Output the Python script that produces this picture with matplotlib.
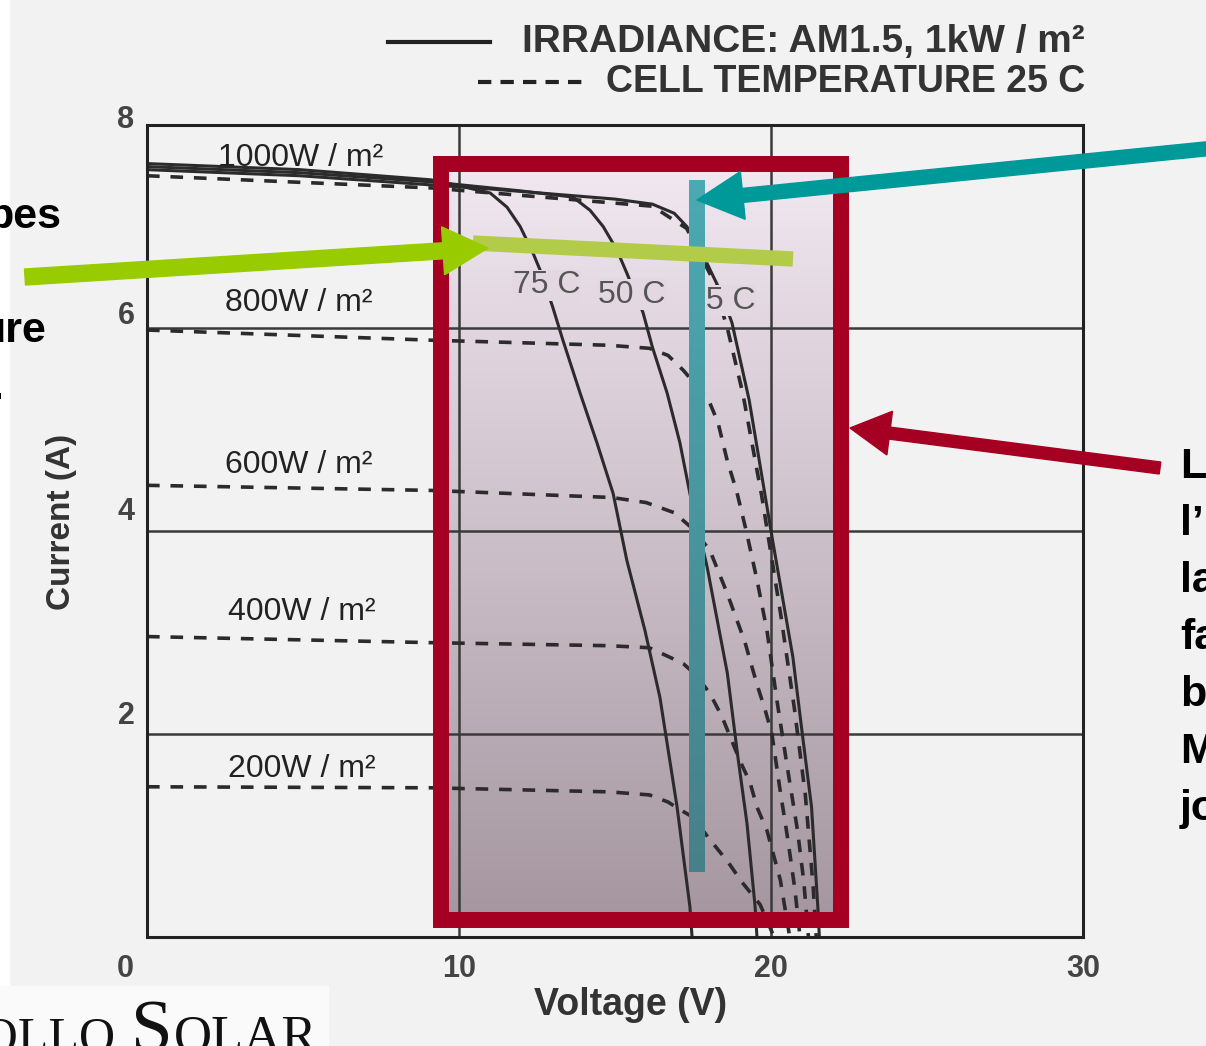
import numpy as np
import matplotlib
matplotlib.use('Agg')
import matplotlib.pyplot as plt
from matplotlib.patches import Rectangle, FancyArrow
from matplotlib.transforms import ScaledTranslation
from matplotlib.colors import LinearSegmentedColormap

plt.rcParams['font.family'] = ['Liberation Sans', 'DejaVu Sans']

# I-V curves (voltage V, current A)
# 1000 W/m2 at 25, 50 and 75 C (solid)
v_25c = [0, 4.9, 9.1, 11.0, 13.0, 15.0, 16.2, 16.9, 17.3, 17.7, 18.1, 18.4, 18.75, 19.3, 20.05, 20.7, 21.0, 21.3, 21.5, 21.55]
i_25c = [7.56, 7.50, 7.41, 7.37, 7.32, 7.27, 7.22, 7.13, 7.00, 6.80, 6.54, 6.35, 6.05, 5.29, 3.91, 2.76, 2.01, 1.28, 0.30, 0.0]
v_50c = [0, 4.9, 9.1, 12.0, 13.65, 14.2, 14.62, 15.06, 15.38, 15.9, 16.2, 16.67, 17.08, 17.4, 17.95, 18.6, 18.94, 19.23, 19.49, 19.55]
i_50c = [7.59, 7.53, 7.44, 7.35, 7.29, 7.16, 7.00, 6.77, 6.54, 6.15, 5.81, 5.36, 4.87, 4.37, 3.65, 2.60, 1.77, 1.12, 0.30, 0.0]
v_75c = [0, 4.9, 9.1, 10.3, 11.0, 11.54, 11.96, 12.37, 12.6, 13.0, 13.33, 13.88, 14.42, 14.94, 15.38, 15.96, 16.44, 16.99, 17.4, 17.47]
i_75c = [7.62, 7.56, 7.46, 7.38, 7.33, 7.19, 7.00, 6.74, 6.57, 6.21, 5.88, 5.36, 4.87, 4.37, 3.71, 3.02, 2.36, 1.28, 0.30, 0.0]

# cell temperature 25 C at several irradiances (dashed)
v_1000 = [0, 9.1, 16.2, 17.3, 18.1, 18.6, 19.1, 19.7, 20.3, 20.75, 21.1, 21.35, 21.45]
i_1000 = [7.50, 7.38, 7.20, 6.98, 6.50, 6.00, 5.35, 4.35, 3.20, 2.25, 1.40, 0.50, 0.0]
v_800 = [0, 9.1, 14.8, 16.1, 16.7, 17.2, 18.0, 18.3, 18.6, 18.9, 19.2, 19.55, 19.87, 20.2, 20.55, 20.85, 21.05, 21.2]
i_800 = [5.98, 5.88, 5.83, 5.80, 5.73, 5.58, 5.29, 5.07, 4.69, 4.39, 4.01, 3.52, 3.02, 2.31, 1.62, 1.05, 0.55, 0.0]
v_600 = [0, 9.1, 14.9, 16.0, 16.9, 17.5, 18.04, 18.59, 18.91, 19.17, 19.39, 19.58, 19.81, 20.03, 20.29, 20.54, 20.77, 20.93]
i_600 = [4.45, 4.40, 4.33, 4.28, 4.18, 4.02, 3.81, 3.39, 3.12, 2.90, 2.66, 2.46, 2.24, 2.00, 1.45, 0.96, 0.46, 0.0]
v_400 = [0, 9.1, 14.8, 16.1, 16.8, 17.2, 17.6, 18.04, 18.43, 19.0, 19.33, 19.55, 19.87, 20.3, 20.6]
i_400 = [2.96, 2.90, 2.87, 2.85, 2.75, 2.69, 2.58, 2.40, 2.17, 1.74, 1.52, 1.28, 1.05, 0.56, 0.0]
v_200 = [0, 9.1, 14.8, 16.1, 16.7, 17.0, 17.5, 18.04, 18.62, 19.07, 19.65, 20.1]
i_200 = [1.48, 1.47, 1.43, 1.40, 1.33, 1.27, 1.18, 0.96, 0.74, 0.54, 0.32, 0.0]

irr_labels = ['1000W / m²', '800W / m²', '600W / m²', '400W / m²', '200W / m²']
irr_label_pos = [(2.28, 7.67), (2.5, 6.25), (2.5, 4.65), (2.6, 3.20), (2.6, 1.66)]
temp_labels = ['75 C', '50 C', '25 C']
temp_label_pos = [(12.8, 6.42), (15.55, 6.33), (18.43, 6.27)]

x_ticks = [0, 10, 20, 30]
y_ticks = [2, 4, 6, 8]

legend_texts = ['IRRADIANCE: AM1.5, 1kW / m²', 'CELL TEMPERATURE 25 C']
right_text = ['L', 'l’', 'la', 'fa', 'b', 'M', 'jo']
left_text = ['bes', 'ure', '.']

W, H = 1206, 1046
fig = plt.figure(figsize=(W / 100, H / 100), dpi=100, facecolor='#F2F2F2')


def vgrad(axis, x0, x1, y0, y1, c_top, c_bot, z):
    cmap = LinearSegmentedColormap.from_list('g', [c_top, c_bot])
    axis.imshow(np.linspace(0, 1, 256).reshape(-1, 1), cmap=cmap, aspect='auto',
                extent=(x0, x1, y1, y0), zorder=z, interpolation='bilinear')


# background layer (pixel coordinates)
bg = fig.add_axes([0, 0, 1, 1], zorder=0)
vgrad(bg, 441, 841, 164, 920, '#F2E8F2', '#A5969F', 1)
bg.add_patch(Rectangle((0, 0), 9, H, color='white', zorder=0))
bg.set_xlim(0, W)
bg.set_ylim(H, 0)
bg.axis('off')

# the chart itself
ax = fig.add_axes([147 / W, (H - 937) / H, 936 / W, 812 / H], zorder=1)
ax.set_facecolor('none')
solid_kw = dict(color='#2b2b2b', lw=2.2, solid_capstyle='butt')
dash_kw = dict(color='#2b2b2b', lw=2.6, ls=(0, (3.5, 3)))
ax.plot(v_25c, i_25c, **solid_kw)
ax.plot(v_50c, i_50c, **solid_kw)
ax.plot(v_75c, i_75c, **solid_kw)
ax.plot(v_1000, i_1000, **dash_kw)
ax.plot(v_800, i_800, **dash_kw)
ax.plot(v_600, i_600, **dash_kw)
ax.plot(v_400, i_400, **dash_kw)
ax.plot(v_200, i_200, **dash_kw)

for lab, (x, y) in zip(irr_labels, irr_label_pos):
    ax.text(x, y, lab, fontsize=23, color='#222222', ha='left', va='center')
for lab, (x, y) in zip(temp_labels, temp_label_pos):
    ax.text(x, y, lab, fontsize=23, color='#555555', ha='center', va='center',
            bbox=dict(facecolor='#E3D8E2', edgecolor='none', pad=0.5))

ax.set_xlim(0, 30)
ax.set_ylim(0, 8)
ax.set_xticks(x_ticks)
ax.set_yticks(y_ticks)
ax.set_xticklabels([str(t) for t in x_ticks])
ax.set_yticklabels([str(t) for t in y_ticks])
ax.tick_params(length=0, labelsize=22, labelcolor='#444444')
ax.tick_params(axis='x', pad=12)
ax.tick_params(axis='y', pad=9)
for lab in ax.get_xticklabels() + ax.get_yticklabels():
    lab.set_fontweight('bold')
# the scanned labels sit a little above their grid lines
for lab, up in zip(ax.get_yticklabels(), [22, 23, 16, 8]):
    lab.set_transform(lab.get_transform() + ScaledTranslation(0, up / 100, fig.dpi_scale_trans))
ax.get_xticklabels()[0].set_transform(ax.get_xticklabels()[0].get_transform()
                                      + ScaledTranslation(-0.22, 0, fig.dpi_scale_trans))
ax.grid(True, color='#3a3a3a', lw=1.8)
for s in ax.spines.values():
    s.set_color('#222222')
    s.set_linewidth(2.2)

ax.set_xlabel('Voltage (V)', fontsize=27, fontweight='bold', color='#333333', va='center')
ax.set_ylabel('Current (A)', fontsize=24, fontweight='bold', color='#333333', va='center')
ax.xaxis.set_label_coords(0.517, -0.084)
ax.yaxis.set_label_coords(-0.091, 0.511)

# overlay layer (pixel coordinates)
ov = fig.add_axes([0, 0, 1, 1], zorder=2)
ov.set_facecolor('none')

# legend at top
ov.plot([388, 490], [42, 42], color='#222222', lw=3)
ov.plot([478, 582], [82, 82], color='#222222', lw=3, ls=(0, (3.2, 2.2)))
ov.text(1085, 42, legend_texts[0], fontsize=28, fontweight='bold', color='#333333',
        ha='right', va='center')
ov.text(1085, 82, legend_texts[1], fontsize=27, fontweight='bold', color='#333333',
        ha='right', va='center')

# teal vertical marker
vgrad(ov, 689, 705, 180, 872, '#4BAAB2', '#478089', 3)

# light green line
ov.plot([473, 793], [243, 259], color='#B2CB48', lw=11, solid_capstyle='butt', zorder=3)

# red frame
ov.add_patch(Rectangle((441, 164), 400, 756, fill=False, edgecolor='#A50021', lw=11.5, zorder=4))

# arrows
ov.add_patch(FancyArrow(1215, 148, 697 - 1215, 200 - 148, width=14, head_width=48,
                        head_length=46, length_includes_head=True, color='#009999', zorder=5))
ov.add_patch(FancyArrow(25, 277, 488 - 25, 248 - 277, width=16, head_width=48,
                        head_length=45, length_includes_head=True, color='#99CC00', zorder=5))
ov.add_patch(FancyArrow(1160, 468, 850 - 1160, 428 - 468, width=12, head_width=44,
                        head_length=40, length_includes_head=True, color='#A50021', zorder=5))

# slide text cut off at both edges
for t, yb in zip(right_text, [478, 535, 592, 649, 706, 763, 820]):
    ov.text(1180, yb, t, fontsize=31, fontweight='bold', color='black', ha='left', va='baseline')
for t, x, yb in zip(left_text, [-13, -21, -9], [228, 342, 399]):
    ov.text(x, yb, t, fontsize=31, fontweight='bold', color='black', ha='left', va='baseline')

# logo box
ov.add_patch(Rectangle((0, 986), 328, 60, color='#FAFAFA', zorder=1))
ov.text(116, 1052, 'POLLO', fontsize=36, family='Liberation Serif', color='#111111',
        ha='right', va='baseline')
ov.text(131, 1052, 'S', fontsize=54, family='Liberation Serif', color='#111111',
        ha='left', va='baseline')
ov.text(174, 1052, 'OLAR', fontsize=38, family='Liberation Serif', color='#111111',
        ha='left', va='baseline')

ov.set_xlim(0, W)
ov.set_ylim(H, 0)
ov.axis('off')

fig.savefig('out.png', dpi=100, facecolor=fig.get_facecolor())
